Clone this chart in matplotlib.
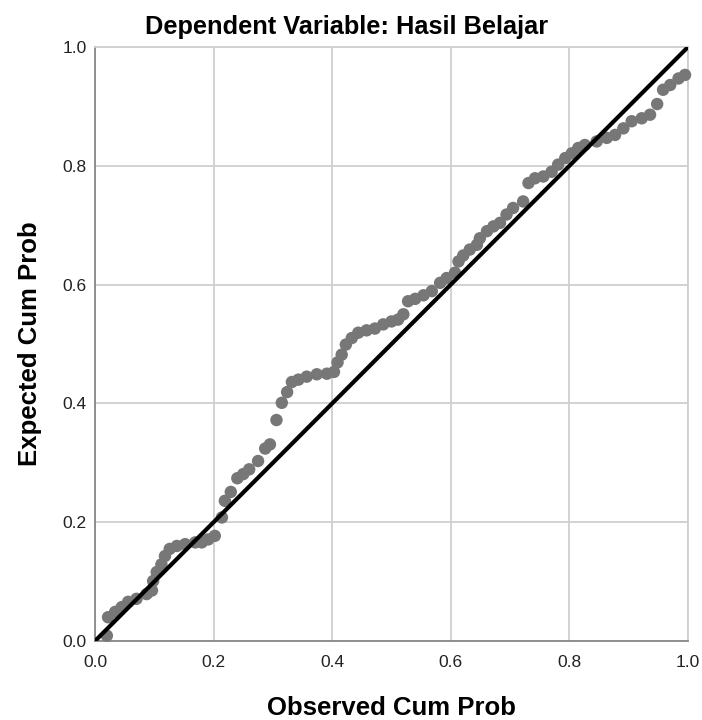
import matplotlib
matplotlib.use("Agg")
import matplotlib.pyplot as plt

observed = [0.020, 0.022, 0.034, 0.045, 0.056, 0.070, 0.087, 0.096, 0.098, 0.104,
            0.112, 0.118, 0.126, 0.138, 0.152, 0.169, 0.180, 0.191, 0.202,
            0.214, 0.219, 0.229, 0.240, 0.250, 0.260, 0.275, 0.287, 0.295, 0.306,
            0.315, 0.324, 0.332, 0.343, 0.357, 0.374, 0.391, 0.403, 0.409, 0.416,
            0.423, 0.433, 0.444, 0.458, 0.472, 0.486, 0.500, 0.511, 0.520, 0.528,
            0.540, 0.554, 0.568, 0.582, 0.593, 0.607, 0.613, 0.621, 0.632, 0.644,
            0.649, 0.661, 0.672, 0.683, 0.694, 0.705, 0.722, 0.731, 0.742, 0.756,
            0.770, 0.781, 0.793, 0.804, 0.815, 0.826, 0.846, 0.863, 0.877, 0.891,
            0.905, 0.922, 0.936, 0.948, 0.958, 0.970, 0.984, 0.995]
expected = [0.009, 0.040, 0.049, 0.057, 0.066, 0.071, 0.079, 0.085, 0.101, 0.116,
            0.129, 0.143, 0.155, 0.160, 0.163, 0.166, 0.166, 0.171, 0.177,
            0.208, 0.236, 0.251, 0.274, 0.281, 0.289, 0.303, 0.324, 0.331, 0.372,
            0.401, 0.419, 0.436, 0.440, 0.445, 0.449, 0.450, 0.453, 0.469, 0.482,
            0.499, 0.510, 0.519, 0.523, 0.526, 0.533, 0.538, 0.541, 0.550, 0.572,
            0.576, 0.582, 0.589, 0.603, 0.611, 0.620, 0.639, 0.649, 0.659, 0.667,
            0.678, 0.690, 0.698, 0.704, 0.718, 0.729, 0.740, 0.771, 0.779, 0.782,
            0.790, 0.802, 0.813, 0.821, 0.830, 0.835, 0.841, 0.847, 0.852, 0.863,
            0.875, 0.880, 0.886, 0.904, 0.928, 0.936, 0.947, 0.953]
ticks = [0.0, 0.2, 0.4, 0.6, 0.8, 1.0]
tick_labels = ["0.0", "0.2", "0.4", "0.6", "0.8", "1.0"]

plt.rcParams['font.family'] = ['Liberation Sans', 'DejaVu Sans']

fig = plt.figure(figsize=(7.02, 7.20), dpi=100)
ax = fig.add_axes([95/702, 1-641/720, 593/702, 594/720])

ax.scatter(observed, expected, s=80, color='#777777', edgecolors='none', zorder=3, clip_on=False)
ax.plot([0, 1], [0, 1], color='black', linewidth=3.0, zorder=4, solid_capstyle='butt')

ax.set_xlim(0, 1)
ax.set_ylim(0, 1)
ax.set_xticks(ticks)
ax.set_yticks(ticks)
ax.set_xticklabels(tick_labels)
ax.set_yticklabels(tick_labels)
ax.tick_params(length=0, labelsize=12.5, colors='#222222')
ax.tick_params(axis='x', pad=10)
ax.tick_params(axis='y', pad=6)
ax.grid(True, color='#cfcfcf', linewidth=1.3, zorder=0)
ax.set_axisbelow(True)
for side in ['top', 'right']:
    ax.spines[side].set_color('#cfcfcf')
    ax.spines[side].set_linewidth(1.3)
for side in ['left', 'bottom']:
    ax.spines[side].set_color('#888888')
    ax.spines[side].set_linewidth(1.3)

ax.set_xlabel('Observed Cum Prob', fontsize=18.5, fontweight='bold', labelpad=19)
ax.set_ylabel('Expected Cum Prob', fontsize=18.5, fontweight='bold', labelpad=15)
fig.text(347/702, 1-27/720, 'Dependent Variable: Hasil Belajar', fontsize=18.3,
         fontweight='bold', ha='center', va='center')

fig.savefig('out.png', dpi=100)
